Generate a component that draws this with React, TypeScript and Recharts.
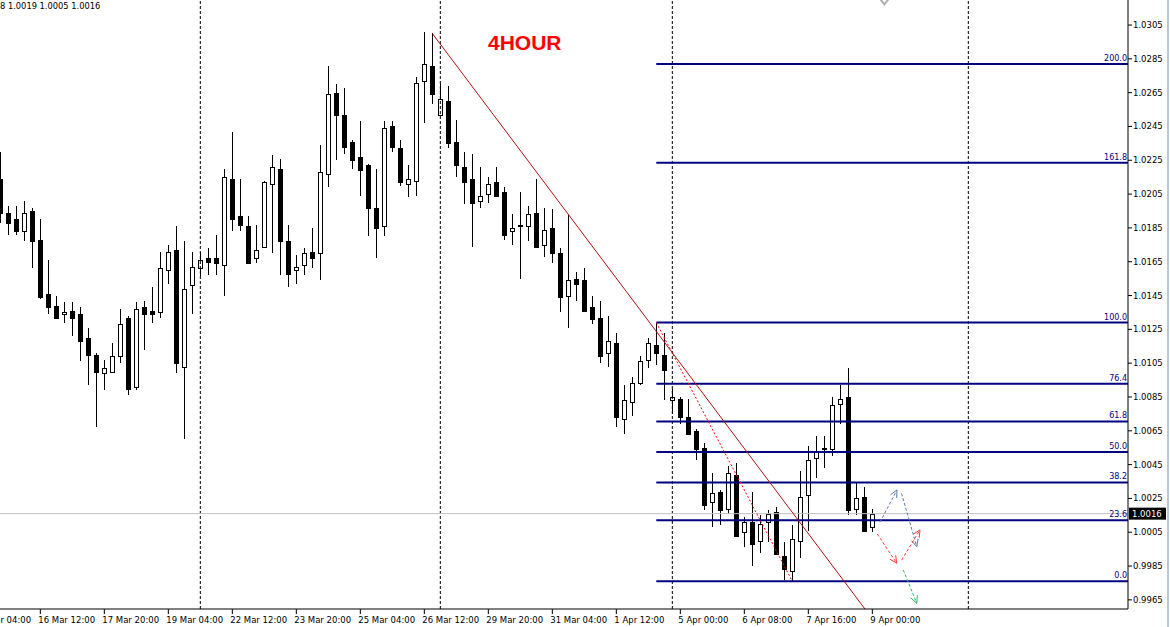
import { Bar, ComposedChart, ReferenceDot, ReferenceLine, XAxis, YAxis } from "recharts";

// H4 candles, oldest first
const opens = [
  1.0214, 1.0194, 1.019, 1.0183, 1.0195, 1.0178, 1.0146, 1.0139, 1.0134, 1.0136,
  1.0134, 1.012, 1.011, 1.0099, 1.01, 1.0109, 1.0132, 1.0091, 1.0138, 1.0136,
  1.0135, 1.016, 1.0172, 1.0103, 1.0151, 1.0161, 1.0167, 1.0167, 1.0163, 1.0214,
  1.0192, 1.0186, 1.0167, 1.0174, 1.0211, 1.022, 1.0177, 1.016, 1.0163, 1.0171,
  1.017, 1.0217, 1.0265, 1.0252, 1.0236, 1.0227, 1.0222, 1.0197, 1.0186, 1.0245,
  1.0232, 1.0211, 1.0213, 1.0272, 1.0281, 1.0252, 1.026, 1.0236, 1.0221, 1.0214,
  1.0201, 1.0205, 1.0212, 1.0206, 1.0183, 1.0186, 1.0186, 1.0194, 1.0175, 1.0185,
  1.017, 1.0145, 1.0155, 1.0154, 1.0138, 1.0132, 1.0111, 1.0117, 1.0072, 1.0082,
  1.0093, 1.0107, 1.0116, 1.011, 1.0083, 1.0084, 1.0073, 1.0065, 1.0055, 1.0023,
  1.0029, 1.0019, 1.0039, 1.0005, 1.0011, 1.0, 1.0011, 1.0017, 0.9991, 0.9982,
  1.0, 1.0027, 1.0049, 1.0055, 1.0054, 1.0081, 1.0085, 1.0019, 1.0026, 1.0008,
];
const highs = [
  1.023, 1.0198, 1.0198, 1.0201, 1.0197, 1.019, 1.0166, 1.0145, 1.0141, 1.0141,
  1.0138, 1.0126, 1.0111, 1.0107, 1.0117, 1.0137, 1.0133, 1.0141, 1.0142, 1.015,
  1.0171, 1.0175, 1.0186, 1.0177, 1.0171, 1.0171, 1.0173, 1.0181, 1.022, 1.0242,
  1.0214, 1.0192, 1.0187, 1.0213, 1.0228, 1.0226, 1.0187, 1.0169, 1.0173, 1.0185,
  1.0234, 1.0281, 1.027, 1.0268, 1.0237, 1.0248, 1.0223, 1.022, 1.0248, 1.0248,
  1.0237, 1.0222, 1.0274, 1.0301, 1.03, 1.0271, 1.0269, 1.0249, 1.023, 1.0229,
  1.0221, 1.0215, 1.0221, 1.0209, 1.0193, 1.0206, 1.0198, 1.0214, 1.0197, 1.0196,
  1.0173, 1.0193, 1.0159, 1.0161, 1.0145, 1.0142, 1.0133, 1.0123, 1.0092, 1.0097,
  1.0109, 1.012, 1.0129, 1.0123, 1.009, 1.0085, 1.0084, 1.0066, 1.0058, 1.004,
  1.003, 1.0044, 1.0046, 1.0014, 1.0029, 1.0015, 1.0018, 1.002, 0.9999, 1.0009,
  1.0041, 1.0056, 1.0062, 1.0062, 1.0085, 1.0092, 1.0102, 1.0035, 1.0032, 1.0019,
];
const lows = [
  1.0188, 1.0181, 1.0181, 1.0177, 1.0161, 1.0143, 1.0134, 1.0131, 1.0129, 1.0121,
  1.0106, 1.0092, 1.0067, 1.0089, 1.0099, 1.0105, 1.0086, 1.0089, 1.0113, 1.0129,
  1.0132, 1.0152, 1.0099, 1.006, 1.0134, 1.0156, 1.0157, 1.0157, 1.0145, 1.0183,
  1.0183, 1.0164, 1.0164, 1.0173, 1.017, 1.0157, 1.015, 1.0152, 1.0157, 1.0161,
  1.0154, 1.0209, 1.0225, 1.0229, 1.022, 1.0204, 1.018, 1.0167, 1.018, 1.023,
  1.021, 1.0203, 1.0204, 1.0247, 1.0258, 1.0251, 1.0232, 1.0215, 1.0199, 1.0174,
  1.0197, 1.02, 1.0203, 1.0178, 1.0175, 1.0155, 1.0177, 1.0174, 1.0168, 1.0164,
  1.0135, 1.0126, 1.0142, 1.0136, 1.0128, 1.0105, 1.0103, 1.0067, 1.0063, 1.0074,
  1.0092, 1.0102, 1.0104, 1.0083, 1.0075, 1.0069, 1.0063, 1.0048, 1.0018, 1.0008,
  1.0009, 1.0016, 1.0002, 0.9996, 0.9985, 0.9993, 0.9999, 0.9992, 0.9977, 0.9976,
  0.999, 1.0006, 1.0037, 1.0043, 1.005, 1.0069, 1.0015, 1.0015, 1.0006, 1.0005,
];
const closes = [
  1.0194, 1.0188, 1.0183, 1.0194, 1.0177, 1.0144, 1.0138, 1.0132, 1.0135, 1.0132,
  1.0118, 1.011, 1.01, 1.0102, 1.0109, 1.0128, 1.009, 1.0137, 1.0134, 1.0134,
  1.0161, 1.0171, 1.0105, 1.0149, 1.0162, 1.0166, 1.0165, 1.0164, 1.0215, 1.019,
  1.0187, 1.0164, 1.0172, 1.0212, 1.0221, 1.0177, 1.0158, 1.0162, 1.017, 1.0167,
  1.0218, 1.0264, 1.0252, 1.0233, 1.0225, 1.0219, 1.0197, 1.0185, 1.0244, 1.0233,
  1.0212, 1.0214, 1.0271, 1.0282, 1.0264, 1.0261, 1.0235, 1.0222, 1.0212, 1.02,
  1.0204, 1.0211, 1.0204, 1.0181, 1.0185, 1.0187, 1.0193, 1.0174, 1.0184, 1.017,
  1.0144, 1.0154, 1.0152, 1.0136, 1.0131, 1.0109, 1.0118, 1.0073, 1.0083, 1.0093,
  1.0106, 1.0117, 1.0111, 1.0101, 1.0085, 1.0073, 1.0063, 1.0054, 1.0021, 1.0028,
  1.0018, 1.004, 1.0003, 1.0011, 0.9998, 1.001, 1.0016, 0.9992, 0.9983, 1.0001,
  1.0026, 1.0048, 1.0053, 1.0054, 1.008, 1.0084, 1.0018, 1.0025, 1.0006, 1.0016,
];

const timeTicks = [-3, 5, 13, 21, 29, 37, 45, 53, 61, 69, 77, 85, 93, 101, 109];
const timeLabels = [
  "15 Mar 04:00", "16 Mar 12:00", "17 Mar 20:00", "19 Mar 04:00", "22 Mar 12:00",
  "23 Mar 20:00", "25 Mar 04:00", "26 Mar 12:00", "29 Mar 20:00", "31 Mar 04:00",
  "1 Apr 12:00", "5 Apr 00:00", "6 Apr 08:00", "7 Apr 16:00", "9 Apr 00:00",
];
const priceTicks = [
  0.9965, 0.9985, 1.0005, 1.0025, 1.0045, 1.0065, 1.0085, 1.0105, 1.0125,
  1.0145, 1.0165, 1.0185, 1.0205, 1.0225, 1.0245, 1.0265, 1.0285, 1.0305,
];
const weekSeparators = [25, 55, 84, 121];

// fibonacci retracement drawn from the bar 82 high to the bar 99 low
const fibLevels = [0, 23.6, 38.2, 50, 61.8, 76.4, 100, 161.8, 200];
const fibHigh = 1.0129;
const fibLow = 0.9976;
const fibFrom = 82;
const fibTo = 99;

// falling trend line through the bar 54 and bar 71 highs
const trendA = { x: 54, y: 1.03 };
const trendB = { x: 71, y: 1.0193 };

const lastPrice = 1.0016;

// hand-drawn projection arrows (bar index, price)
const arrows = [
  { from: [109.96, 1.0011], to: [112.08, 1.003], color: "#5a78b0" },
  { from: [112.65, 1.0028], to: [114.55, 0.99965], color: "#5a78b0" },
  { from: [109.62, 1.0004], to: [112.05, 0.99867], color: "#ff3a3a" },
  { from: [112.67, 0.99886], to: [114.96, 1.00064], color: "#ff3a3a" },
  { from: [112.87, 0.99827], to: [114.55, 0.9963], color: "#27b860" },
];

// grey marker sitting on the top edge
const topMarker = { x: 110.5, y: 1.0319 };

const xDomain = [-0.04, 140.96];
const yDomain = [0.99596, 1.03198];

const candles = opens.map((open, i) => ({
  i,
  open,
  high: highs[i],
  low: lows[i],
  close: closes[i],
  range: [lows[i], highs[i]],
}));

const trendSlope = (trendB.y - trendA.y) / (trendB.x - trendA.x);
const trendEndX = trendA.x + (yDomain[0] - trendA.y) / trendSlope;

const axisFont = "'DejaVu Sans', sans-serif";

function Candle(props: any) {
  const { x, y, width, height, payload } = props;
  const { open, high, low, close } = payload;
  const span = high - low || 1e-9;
  const py = (v: number) => y + ((high - v) / span) * height;
  const cx = Math.round(x + width / 2) + 0.5;
  const top = Math.round(py(Math.max(open, close)));
  const bottom = Math.round(py(Math.min(open, close)));
  const up = close >= open;
  return (
    <g>
      <line x1={cx} x2={cx} y1={Math.round(y)} y2={Math.round(y + height)} stroke="#000" strokeWidth={1} />
      <rect
        x={cx - 2}
        y={top + 0.5}
        width={4}
        height={Math.max(bottom - top, 1)}
        fill={up ? "#fff" : "#000"}
        stroke="#000"
        strokeWidth={1}
      />
    </g>
  );
}

function TimeTick(props: any) {
  const { x, y, payload } = props;
  const label = timeLabels[timeTicks.indexOf(payload.value)];
  return (
    <text x={x - 2} y={y + 7} fontSize={8.5} fontFamily={axisFont} fill="#000" textAnchor="start">
      {label}
    </text>
  );
}

function PriceTick(props: any) {
  const { x, y, payload } = props;
  return (
    <text x={x} y={y + 3} fontSize={8.5} fontFamily={axisFont} fill="#000" textAnchor="start">
      {Number(payload.value).toFixed(4)}
    </text>
  );
}

function FibText(props: any) {
  const { viewBox, text } = props;
  return (
    <text
      x={viewBox.x + viewBox.width - 1}
      y={viewBox.y - 3}
      fontSize={8}
      fontFamily={axisFont}
      fill="#000080"
      textAnchor="end"
    >
      {text}
    </text>
  );
}

function PriceBox(props: any) {
  const { viewBox } = props;
  const left = viewBox.x + viewBox.width + 1;
  return (
    <g>
      <rect x={left} y={viewBox.y - 6} width={37} height={12} fill="#000" />
      <text x={left + 3} y={viewBox.y + 3} fontSize={8.5} fontFamily={axisFont} fill="#fff">
        {lastPrice.toFixed(4)}
      </text>
    </g>
  );
}

function Arrow(props: any) {
  const { x1, y1, x2, y2, stroke } = props;
  const a = Math.atan2(y2 - y1, x2 - x1);
  const len = 8;
  const spread = 0.45;
  const h1 = `${x2 - len * Math.cos(a - spread)},${y2 - len * Math.sin(a - spread)}`;
  const h2 = `${x2 - len * Math.cos(a + spread)},${y2 - len * Math.sin(a + spread)}`;
  return (
    <g>
      <line x1={x1} y1={y1} x2={x2} y2={y2} stroke={stroke} strokeWidth={1} strokeDasharray="3 2" />
      <polyline points={`${h1} ${x2},${y2} ${h2}`} fill="none" stroke={stroke} strokeWidth={1} />
    </g>
  );
}

function Chevron(props: any) {
  const { cx, cy } = props;
  return (
    <polyline
      points={`${cx - 4},${cy - 2} ${cx},${cy + 3} ${cx + 4},${cy - 2}`}
      fill="none"
      stroke="#b0b0b0"
      strokeWidth={2}
    />
  );
}

export default function App() {
  return (
    <div style={{ position: "relative", width: 1170, height: 627, background: "#fff", overflow: "hidden" }}>
      <style>{"body{margin:0}"}</style>
      <ComposedChart width={1170} height={627} data={candles} margin={{ top: 0, right: 0, bottom: 0, left: 0 }}>
        <XAxis
          dataKey="i"
          type="number"
          domain={xDomain}
          allowDataOverflow
          ticks={timeTicks}
          interval={0}
          height={18}
          tickSize={5}
          tickMargin={2}
          stroke="#000"
          tick={<TimeTick />}
        />
        <YAxis
          orientation="right"
          type="number"
          domain={yDomain}
          allowDataOverflow
          ticks={priceTicks}
          interval={0}
          width={42}
          tickSize={4}
          tickMargin={1}
          stroke="#000"
          tick={<PriceTick />}
        />

        {weekSeparators.map((s) => (
          <ReferenceLine key={s} x={s} stroke="#000" strokeDasharray="3 2" ifOverflow="visible" />
        ))}

        <ReferenceLine y={lastPrice} stroke="#c0c0c0" label={<PriceBox />} />

        {fibLevels.map((lvl) => {
          const v = fibLow + ((fibHigh - fibLow) * lvl) / 100;
          return (
            <ReferenceLine
              key={lvl}
              segment={[
                { x: fibFrom, y: v },
                { x: xDomain[1], y: v },
              ]}
              stroke="#000080"
              strokeWidth={2}
              ifOverflow="visible"
              label={<FibText text={lvl.toFixed(1)} />}
            />
          );
        })}

        <ReferenceLine
          segment={[
            { x: fibFrom, y: fibHigh },
            { x: fibTo, y: fibLow },
          ]}
          stroke="#ff0000"
          strokeDasharray="2 2"
          ifOverflow="visible"
        />

        <ReferenceLine
          segment={[
            { x: trendA.x, y: trendA.y },
            { x: trendEndX, y: yDomain[0] },
          ]}
          stroke="#b01010"
          strokeWidth={1}
          ifOverflow="hidden"
        />

        {arrows.map((ar, k) => (
          <ReferenceLine
            key={k}
            segment={[
              { x: ar.from[0], y: ar.from[1] },
              { x: ar.to[0], y: ar.to[1] },
            ]}
            stroke={ar.color}
            ifOverflow="visible"
            shape={(p: any) => <Arrow {...p} stroke={ar.color} />}
          />
        ))}

        <ReferenceDot x={topMarker.x} y={topMarker.y} ifOverflow="visible" shape={<Chevron />} />

        <Bar dataKey="range" barSize={5} shape={<Candle />} isAnimationActive={false} />
      </ComposedChart>

      <div
        style={{
          position: "absolute",
          left: 0,
          top: 1,
          fontSize: 8.3,
          lineHeight: "11px",
          fontFamily: axisFont,
          color: "#000",
          whiteSpace: "nowrap",
        }}
      >
        8 1.0019 1.0005 1.0016
      </div>
      <div
        style={{
          position: "absolute",
          left: 488,
          top: 30,
          fontSize: 21,
          lineHeight: "26px",
          fontWeight: "bold",
          fontFamily: "'Liberation Sans', Arial, sans-serif",
          color: "#ff0000",
        }}
      >
        4HOUR
      </div>
      <div style={{ position: "absolute", left: 1167, top: 0, width: 2, height: 627, background: "#b4c8e4" }} />
    </div>
  );
}
